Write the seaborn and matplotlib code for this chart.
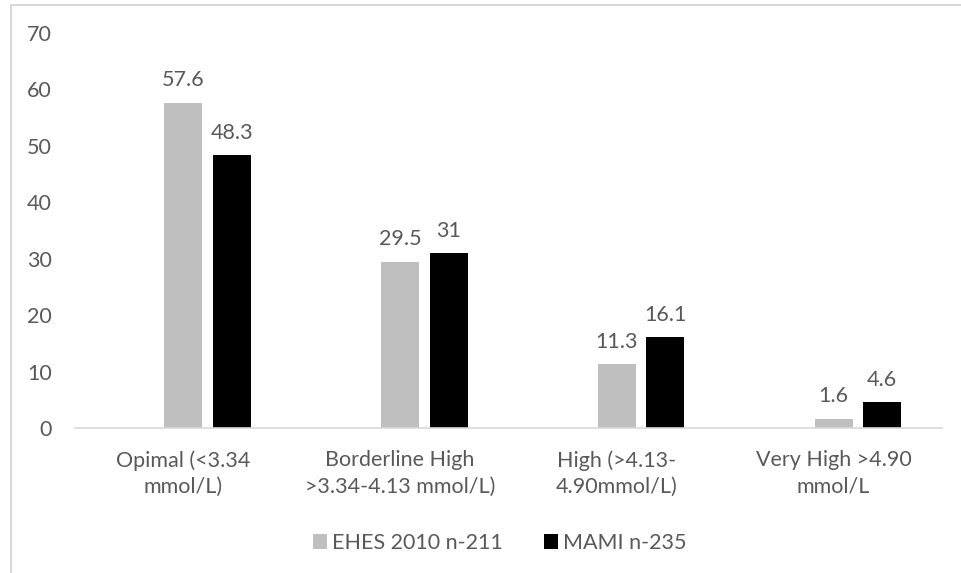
import matplotlib
matplotlib.use("Agg")
import matplotlib.pyplot as plt
import seaborn as sns
import pandas as pd
from matplotlib.patches import Patch, Rectangle

categories = [
    "Opimal (<3.34\nmmol/L)",
    "Borderline High\n>3.34-4.13 mmol/L)",
    "High (>4.13-\n4.90mmol/L)",
    "Very High >4.90\nmmol/L",
]
series_names = ["", "EHES 2010 n-211", "MAMI n-235"]
spacer = [0, 0, 0, 0]
ehes = [57.6, 29.5, 11.3, 1.6]
mami = [48.3, 31, 16.1, 4.6]
y_ticks = [0, 10, 20, 30, 40, 50, 60, 70]

colors = {"": "#ffffff", "EHES 2010 n-211": "#bfbfbf", "MAMI n-235": "#000000"}
text_color = "#595959"
line_color = "#d9d9d9"
fs = 15.5

df = pd.DataFrame({
    "category": categories * 3,
    "series": [series_names[0]] * 4 + [series_names[1]] * 4 + [series_names[2]] * 4,
    "value": spacer + ehes + mami,
})

sns.set_theme(style="white")
plt.rcParams["font.family"] = ["Lato", "DejaVu Sans"]

fig = plt.figure(figsize=(9.61, 5.73), dpi=100)
ax = fig.add_axes([75 / 961, 1 - 428 / 573, 867 / 961, 395 / 573])

sns.barplot(data=df, x="category", y="value", hue="series", hue_order=series_names,
            palette=colors, order=categories, width=0.672, gap=0.22,
            linewidth=0, saturation=1, legend=False, ax=ax)

# value labels above the two visible series
for container, vals in zip(ax.containers[1:], [ehes, mami]):
    ax.bar_label(container, labels=[f"{v:g}" for v in vals], padding=9,
                 fontsize=fs, color=text_color)

ax.set_xlim(-0.5, 3.5)
ax.set_ylim(0, 70)
ax.set_yticks(y_ticks)
ax.set_yticklabels([str(t) for t in y_ticks])
ax.set_xlabel("")
ax.set_ylabel("")
ax.tick_params(axis="both", length=0, labelsize=fs, labelcolor=text_color)
ax.tick_params(axis="y", pad=16.5)
ax.tick_params(axis="x", pad=16)
for lbl in ax.get_xticklabels():
    lbl.set_linespacing(1.4)
for side in ["top", "right", "left"]:
    ax.spines[side].set_visible(False)
ax.spines["bottom"].set_color(line_color)
ax.spines["bottom"].set_linewidth(1.2)
ax.patch.set_alpha(0)

handles = [Patch(facecolor=colors[s], edgecolor="none") for s in series_names[1:]]
fig.legend(handles, series_names[1:], loc="center", bbox_to_anchor=(500 / 961, 1 - 543 / 573),
           ncol=2, frameon=False, fontsize=fs, labelcolor=text_color,
           handlelength=0.65, handleheight=0.65, handletextpad=0.25, columnspacing=1.9)

# light chart-area border
fig.patches.append(Rectangle((11 / 961, -0.1), 1.2, 1 - 5 / 573 + 0.1, transform=fig.transFigure,
                             facecolor="none", edgecolor=line_color, linewidth=1.5))

fig.savefig("out.png", dpi=100, facecolor="white")
